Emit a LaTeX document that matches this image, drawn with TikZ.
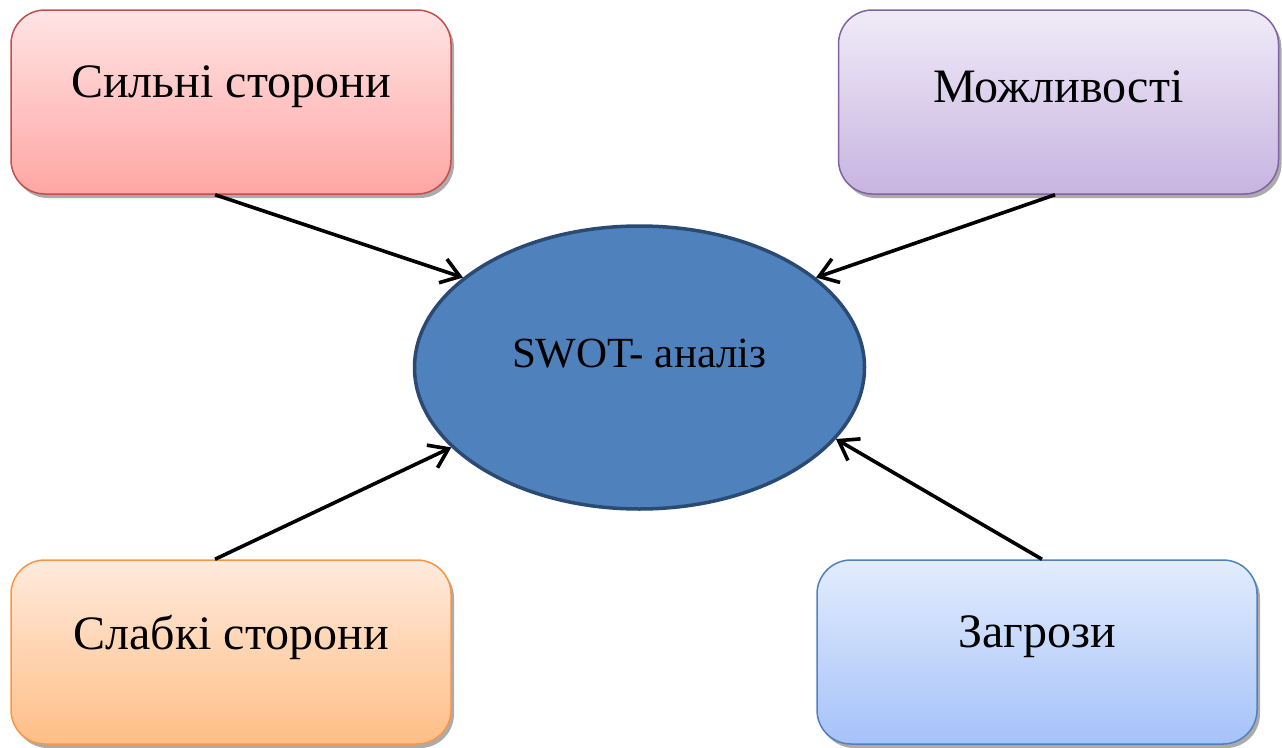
\documentclass[tikz,border=0pt]{standalone}
\usepackage{fontspec}
\setmainfont{Liberation Serif}
\usetikzlibrary{shapes.geometric,arrows.meta,shadows,calc}

\definecolor{sBorder}{HTML}{C0504D}
\definecolor{sTop}{HTML}{FFE4E4}
\definecolor{sBot}{HTML}{FFA6A4}
\definecolor{oBorder}{HTML}{8064A2}
\definecolor{oTop}{HTML}{F0EBF8}
\definecolor{oBot}{HTML}{C7B4E0}
\definecolor{wBorder}{HTML}{F79646}
\definecolor{wTop}{HTML}{FFEADC}
\definecolor{wBot}{HTML}{FFBE86}
\definecolor{tBorder}{HTML}{4F81BD}
\definecolor{tTop}{HTML}{E2ECFD}
\definecolor{tBot}{HTML}{A6C2F9}
\definecolor{eFill}{HTML}{4F81BD}
\definecolor{eBorder}{HTML}{2B4A73}

\tikzset{
  card/.style={rectangle, rounded corners=34pt, minimum width=440pt,
    minimum height=184pt, inner sep=0pt, line width=1.5pt,
    drop shadow={shadow xshift=3pt, shadow yshift=-4pt, fill=black!55, opacity=.6}},
  cardtext/.style={font=\fontsize{48}{56}\selectfont, inner sep=0pt},
  hub/.style={ellipse, minimum width=450pt, minimum height=283pt, inner sep=0pt,
    fill=eFill, draw=eBorder, line width=3.5pt},
  link/.style={line width=3.6pt, -{Straight Barb[length=18pt, width=25pt, line width=3.6pt]}}
}

\begin{document}
\begin{tikzpicture}[x=1pt, y=-1pt]
  \useasboundingbox (0,0) rectangle (1282,747);

  % four factor cards
  \node[card, draw=sBorder, top color=sTop, bottom color=sBot] (s) at (231,102) {};
  \node[card, draw=oBorder, top color=oTop, bottom color=oBot] (o) at (1058.5,102) {};
  \node[card, draw=wBorder, top color=wTop, bottom color=wBot] (w) at (231,652) {};
  \node[card, draw=tBorder, top color=tTop, bottom color=tBot] (t) at (1037,652) {};

  \node[cardtext] (sl) at ($(s.center)+(0,-15)$) {Сильні сторони};
  \node[cardtext] (ol) at ($(o.center)+(0,-15)$) {Можливості};
  \node[cardtext] (wl) at ($(w.center)+(0,-15)$) {Слабкі сторони};
  \node[cardtext] (tl) at ($(t.center)+(0,-15)$) {Загрози};

  % central ellipse
  \node[hub] (e) at (639.5,367.5) {};
  \node[font=\fontsize{43}{50}\selectfont, inner sep=0pt] (el) at ($(e.center)+(0,-14)$) {SWOT- аналіз};

  % connectors
  \draw[link] ($(s.south)+(-16,0)$) -- (e.153);
  \draw[link] ($(o.south)+(-3.5,0)$) -- (e.27);
  \draw[link] ($(w.north)+(-16,0)$) -- (e.203);
  \draw[link] ($(t.north)+(5,0)$) -- (e.340);
\end{tikzpicture}
\end{document}
